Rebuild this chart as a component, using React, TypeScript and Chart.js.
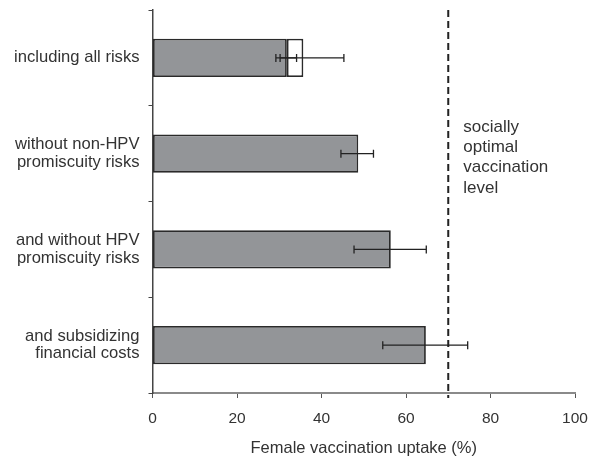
import React, { useEffect, useRef } from "react";
import { Chart, registerables } from "chart.js";

Chart.register(...registerables);

const categories: string[][] = [
  ["including all risks"],
  ["without non-HPV", "promiscuity risks"],
  ["and without HPV", "promiscuity risks"],
  ["and subsidizing", "financial costs"],
];
const uptake = [31.8, 48.7, 56.4, 64.7];
const uptakeUpper: (number | null)[] = [35.7, null, null, null];
const errLow = [29.2, 44.6, 47.7, 54.5];
const errHigh = [34.1, 52.3, 64.8, 74.6];
const errLow2: (number | null)[] = [30.2, null, null, null];
const errHigh2: (number | null)[] = [45.3, null, null, null];
const optimalLevel = 70;
const optimalLabel = ["socially", "optimal", "vaccination", "level"];
const xTicks = [0, 20, 40, 60, 80, 100];

const FONT = "'Liberation Sans', Arial, sans-serif";

const overlayPlugin = {
  id: "overlay",
  afterDatasetsDraw(chart: any) {
    const { ctx, chartArea, scales } = chart;
    const xs = scales.x;
    const ys = scales.y;
    ctx.save();
    ctx.strokeStyle = "#222";
    ctx.lineWidth = 1.3;
    const drawErr = (lo: number, hi: number, i: number) => {
      const y = ys.getPixelForValue(i);
      const x1 = xs.getPixelForValue(lo);
      const x2 = xs.getPixelForValue(hi);
      ctx.beginPath();
      ctx.moveTo(x1, y);
      ctx.lineTo(x2, y);
      ctx.moveTo(x1, y - 4);
      ctx.lineTo(x1, y + 4);
      ctx.moveTo(x2, y - 4);
      ctx.lineTo(x2, y + 4);
      ctx.stroke();
    };
    for (let i = 0; i < uptake.length; i++) {
      drawErr(errLow[i], errHigh[i], i);
      const l2 = errLow2[i];
      const h2 = errHigh2[i];
      if (l2 != null && h2 != null) drawErr(l2, h2, i);
    }
    const xd = xs.getPixelForValue(optimalLevel);
    ctx.strokeStyle = "#222";
    ctx.lineWidth = 2;
    ctx.setLineDash([7, 4]);
    ctx.beginPath();
    ctx.moveTo(xd, chartArea.top);
    ctx.lineTo(xd, chartArea.bottom + 5);
    ctx.stroke();
    ctx.setLineDash([]);
    ctx.fillStyle = "#333";
    ctx.font = `17px ${FONT}`;
    ctx.textAlign = "left";
    ctx.textBaseline = "middle";
    optimalLabel.forEach((t, k) => {
      ctx.fillText(t, xd + 15, 127 + k * 20.3);
    });
    ctx.restore();
  },
};

export default function App() {
  const ref = useRef<HTMLCanvasElement | null>(null);
  useEffect(() => {
    if (!ref.current) return;
    const chart = new Chart(ref.current, {
      type: "bar",
      data: {
        labels: categories as any,
        datasets: [
          {
            data: uptake,
            backgroundColor: "#939598",
            borderColor: "#2a2a2a",
            borderWidth: 1.8,
            grouped: false,
            categoryPercentage: 1,
            barPercentage: 0.4,
            borderSkipped: false,
          } as any,
          {
            data: uptakeUpper.map((v, i) => (v == null ? null : [uptake[i], v])),
            backgroundColor: "#ffffff",
            borderColor: "#2a2a2a",
            borderWidth: 1.8,
            grouped: false,
            categoryPercentage: 1,
            barPercentage: 0.4,
            borderSkipped: false,
          } as any,
        ],
      },
      options: {
        indexAxis: "y",
        responsive: false,
        animation: false,
        layout: { padding: { top: 10, right: 15, left: 0, bottom: 0 } },
        plugins: { legend: { display: false }, tooltip: { enabled: false } },
        scales: {
          x: {
            type: "linear",
            min: 0,
            max: 100,
            afterBuildTicks: (s: any) => {
              s.ticks = xTicks.map((v) => ({ value: v }));
            },
            afterFit: (s: any) => {
              s.height = 65;
              s.paddingLeft = 0;
              s.paddingRight = 0;
            },
            grid: { drawOnChartArea: false, drawTicks: true, tickLength: 5, color: "#555", lineWidth: 1 },
            border: { display: true, color: "#8a8a8a", width: 2 },
            ticks: { color: "#333", font: { family: FONT, size: 15.5 }, padding: 11 },
            title: {
              display: true,
              text: "Female vaccination uptake (%)",
              color: "#333",
              font: { family: FONT, size: 16.5 },
              padding: { top: 0, bottom: 0 },
            },
          },
          y: {
            type: "category",
            offset: true,
            afterFit: (s: any) => {
              s.width = 152.5;
              s.paddingTop = 0;
              s.paddingBottom = 0;
            },
            grid: { drawOnChartArea: false, drawTicks: true, tickLength: 4, color: "#444", offset: true },
            border: { display: true, color: "#444", width: 1.5 },
            ticks: { color: "#333", font: { family: FONT, size: 16.6, lineHeight: 1.05 }, padding: 9 },
          },
        },
      },
      plugins: [overlayPlugin],
    } as any);
    return () => chart.destroy();
  }, []);
  return (
    <div style={{ position: "fixed", left: 0, top: 0, width: 590, height: 458, background: "#fff" }}>
      <canvas ref={ref} width={590} height={458} />
    </div>
  );
}
